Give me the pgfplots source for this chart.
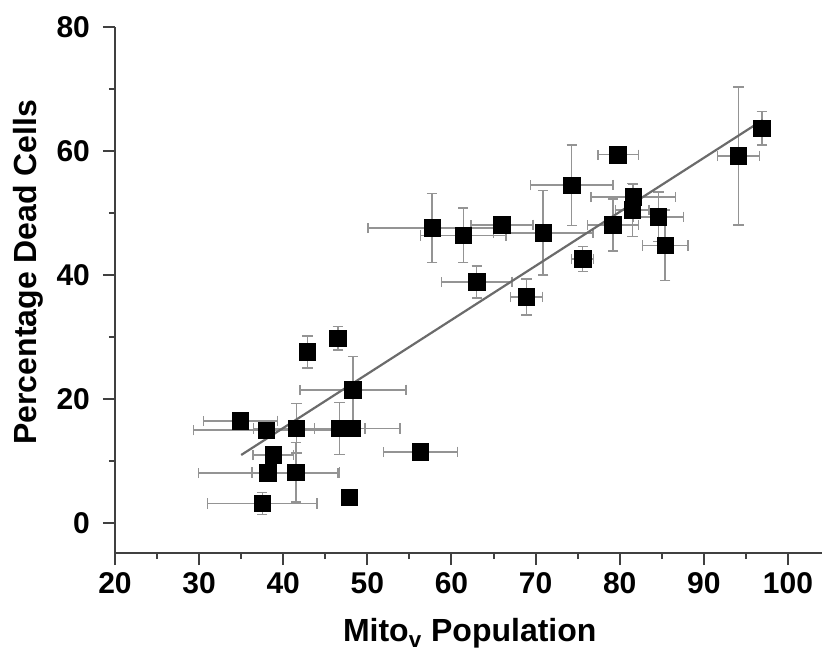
\documentclass[border=0pt]{standalone}
\usepackage{fontspec}
\setmainfont{Liberation Sans}
\usepackage{pgfplots}
\pgfplotsset{compat=1.18}
\usepackage{pgfplotstable}

\pgfplotstableread{
x y ex ey
34.9 16.5 4.4 0.8
38.0 15.0 8.7 0.8
41.6 15.3 5.1 4.0
46.7 15.3 3.0 4.2
48.2 15.3 5.7 0.8
48.3 21.5 6.3 5.4
42.9 27.6 0.5 2.6
46.5 29.8 0.5 1.9
38.8 11.0 2.4 0.8
38.2 8.1 8.3 0.8
41.5 8.2 5.2 4.8
37.5 3.2 6.5 1.8
47.9 4.2 0 0
56.3 11.5 4.4 0.8
57.7 47.6 7.6 5.6
61.4 46.4 5.1 4.4
66.0 48.1 3.7 0.8
70.9 46.8 5.9 6.8
63.0 38.9 4.2 2.6
68.9 36.5 1.9 2.9
75.6 42.6 1.3 2.0
79.2 48.1 3.0 4.2
74.3 54.5 4.9 6.5
79.8 59.4 2.4 0.8
94.1 59.2 2.5 11.1
96.9 63.7 1.0 2.7
81.6 52.6 5.0 2.0
81.5 50.5 2.0 4.3
84.6 49.4 3.0 4.0
85.4 44.8 2.7 5.7
}\data

\begin{document}
\begin{tikzpicture}
\begin{axis}[
 scale only axis, width=353.3pt, height=263pt,
 xmin=20, xmax=104, ymin=-4.8, ymax=80,
 axis lines=left,
 axis line style={-, line width=1.2pt, color=black!75},
 xtick={20,30,...,100}, ytick={0,20,...,80},
 minor x tick num=1, minor y tick num=1,
 tick align=outside,
 major tick length=6pt, minor tick length=3pt,
 tick style={line width=1pt, black!75},
 /pgf/number format/assume math mode=true,
 ticklabel style={font=\bfseries\fontsize{15}{17}\selectfont},
 yticklabel style={xshift=-3pt},
 xlabel={Mito\textsubscript{v} Population},
 ylabel={Percentage Dead Cells},
 label style={font=\bfseries\fontsize{16}{18}\selectfont},
 xlabel style={at={(axis description cs:0.502,-0.169)}, anchor=base},
 ylabel style={at={(axis description cs:-0.123,0.534)}, anchor=center},
 clip=false,
]
\addplot[only marks, mark=square*, mark size=4.1pt, mark options={black},
  error bars/.cd, x dir=both, x explicit, y dir=both, y explicit,
  error bar style={black!42, line width=0.7pt},
  error mark options={rotate=90, black!42, mark size=2.6pt, line width=0.7pt}]
  table[x=x, y=y, x error=ex, y error=ey]{\data};
\addplot[black!58, line width=1.1pt] coordinates {(35,11) (97,65)};
\end{axis}
\pgfresetboundingbox
\path[use as bounding box] (-57.5pt,-50pt) rectangle (354.5pt,276.5pt);
\end{tikzpicture}
\end{document}
